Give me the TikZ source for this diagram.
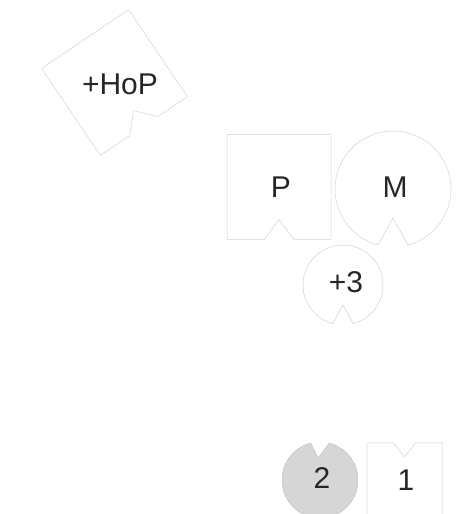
\documentclass[tikz,border=0pt]{standalone}
\usepackage{fontspec}
\setmainfont{Liberation Sans}
\usepackage{tikz}

\tikzset{
  piece/.style={draw=black!18, line width=0.5pt},
  token/.style={draw=black!24, fill=black!16, line width=0.5pt},
  lbl/.style={text=black!85, font=\fontsize{30}{36}\selectfont, inner sep=0pt}
}

\begin{document}
\begin{tikzpicture}[x=1pt, y=1pt]
\useasboundingbox (0,0) rectangle (471,514);

% tilted square, notch on its lower side
\begin{scope}[shift={(114.5,431.5)}, rotate=34]
\draw[piece] (-52.5,-52.5) -- (-17,-52.5) -- (0,-34) -- (17,-52.5) -- (52.5,-52.5)
  -- (52.5,52.5) -- (-52.5,52.5) -- cycle;
\end{scope}
\node[lbl] (hop) at (120,430) {+HoP};

% square P
\begin{scope}[shift={(279,327)}]
\draw[piece] (-52,-52.5) -- (-15,-52.5) -- (0,-32.5) -- (15,-52.5) -- (52,-52.5)
  -- (52,52.5) -- (-52,52.5) -- cycle;
\end{scope}
\node[lbl] (p) at (281,327) {P};

% round M
\begin{scope}[shift={(393,325)}]
\draw[piece] (-75:58) arc[start angle=-75, end angle=255, radius=58] -- (0,-29) -- cycle;
\end{scope}
\node[lbl] (m) at (395,327) {M};

% round +3
\begin{scope}[shift={(343,229)}]
\draw[piece] (-75:40) arc[start angle=-75, end angle=255, radius=40] -- (0,-20) -- cycle;
\end{scope}
\node[lbl] (three) at (346,232) {+3};

% grey token 2, notch on top
\begin{scope}[shift={(320,34)}]
\draw[token] (104:38) arc[start angle=104, end angle=436, radius=38] -- (-2,22) -- cycle;
\end{scope}
\node[lbl] (two) at (322,36) {2};

% small square 1, notch on top
\begin{scope}[shift={(404.5,34)}]
\draw[piece] (-37.5,37) -- (-11,37) -- (0,23) -- (11,37) -- (37.5,37)
  -- (37.5,-37) -- (-37.5,-37) -- cycle;
\end{scope}
\node[lbl] (one) at (406,34) {1};

\end{tikzpicture}
\end{document}
